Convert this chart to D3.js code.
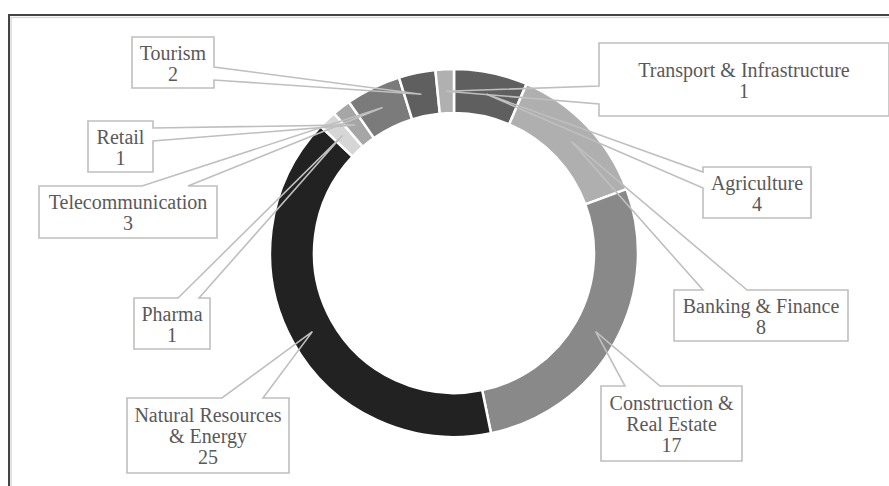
<!DOCTYPE html>
<html>
<head>
<meta charset="utf-8">
<script src="https://cdn.jsdelivr.net/npm/d3@7/dist/d3.min.js"></script>
<style>
  html, body { margin: 0; padding: 0; background: #fff; }
  svg { display: block; }
  .lbl { font-family: "Liberation Serif", "Times New Roman", Times, serif; font-size: 20px; fill: #595959; }
</style>
</head>
<body>
<svg id="chart" width="889" height="486"></svg>
<script>
// Sectors and deal counts, in ring order (clockwise from 12 o'clock)
const sectors = [
  "Agriculture",
  "Banking & Finance",
  "Construction & Real Estate",
  "Natural Resources & Energy",
  "Pharma",
  "Retail",
  "Telecommunication",
  "Tourism",
  "Transport & Infrastructure"
];
const counts = [4, 8, 17, 25, 1, 1, 3, 2, 1];
const sectorColors = ["#5f5f5f", "#afafaf", "#898989", "#222222", "#d6d6d6", "#a6a6a6", "#7b7b7b", "#5f5f5f", "#b0b0b0"];

// Label text lines per sector (the value line is appended from counts)
const labelLines = [
  ["Agriculture"],
  ["Banking & Finance"],
  ["Construction &", "Real Estate"],
  ["Natural Resources", "& Energy"],
  ["Pharma"],
  ["Retail"],
  ["Telecommunication"],
  ["Tourism"],
  ["Transport & Infrastructure"]
];

// Callout box placement: box rect, side the pointer leaves from, and the two base points along that side
const callouts = [
  { x: 703, y: 167, w: 108, h: 51, side: "left",  a: 172, b: 188 },
  { x: 674, y: 290, w: 174, h: 51, side: "top",   a: 703, b: 747 },
  { x: 601, y: 386, w: 141, h: 75, side: "top",   a: 625, b: 660 },
  { x: 127, y: 398, w: 162, h: 75, side: "top",   a: 222, b: 263 },
  { x: 134, y: 298, w: 76,  h: 51, side: "top",   a: 178, b: 199 },
  { x: 88,  y: 121, w: 65,  h: 51, side: "right", a: 128, b: 141 },
  { x: 39,  y: 186, w: 178, h: 52, side: "top",   a: 142, b: 188 },
  { x: 132, y: 37,  w: 82,  h: 51, side: "right", a: 67,  b: 80 },
  { x: 599, y: 43,  w: 290, h: 73, side: "left",  a: 86,  b: 104 }
];

const svg = d3.select("#chart");
const W = 889, H = 486;

// Chart frame
svg.append("rect").attr("x", 0).attr("y", 0).attr("width", W).attr("height", H).attr("fill", "#fff");
svg.append("path")
  .attr("d", `M11,${H} L11,17.5 L${W},17.5`)
  .attr("fill", "none").attr("stroke", "#dadada").attr("stroke-width", 1.5);
svg.append("path")
  .attr("d", `M9,${H} L9,15 L${W},15`)
  .attr("fill", "none").attr("stroke", "#444").attr("stroke-width", 2);

// Doughnut
const cx = 454, cy = 253, rOuter = 184, rInner = 140;
const pie = d3.pie().value(d => d).sort(null).startAngle(0).endAngle(2 * Math.PI);
const arcs = pie(counts);
const arc = d3.arc().innerRadius(rInner).outerRadius(rOuter);

const ring = svg.append("g").attr("transform", `translate(${cx},${cy})`);
ring.selectAll("path.slice")
  .data(arcs)
  .join("path")
  .attr("class", "slice")
  .attr("d", arc)
  .attr("fill", (d, i) => sectorColors[i])
  .attr("stroke", "#fff")
  .attr("stroke-width", 2.5)
  .attr("stroke-linejoin", "miter");

// Callouts: white box, then an outline whose pointer runs to the slice centroid
const lineH = 21;
const labels = svg.append("g");

arcs.forEach((d, i) => {
  const c = callouts[i];
  const [tx, ty] = arc.centroid(d);
  const tip = [cx + tx, cy + ty];
  const x0 = c.x, y0 = c.y, x1 = c.x + c.w, y1 = c.y + c.h;
  let pts;
  const lo = Math.min(c.a, c.b), hi = Math.max(c.a, c.b);
  if (c.side === "top") {
    pts = [[x0, y0], [lo, y0], tip, [hi, y0], [x1, y0], [x1, y1], [x0, y1]];
  } else if (c.side === "right") {
    pts = [[x0, y0], [x1, y0], [x1, lo], tip, [x1, hi], [x1, y1], [x0, y1]];
  } else if (c.side === "left") {
    pts = [[x0, y0], [x1, y0], [x1, y1], [x0, y1], [x0, hi], tip, [x0, lo]];
  } else {
    pts = [[x0, y0], [x1, y0], [x1, y1], [hi, y1], tip, [lo, y1], [x0, y1]];
  }

  labels.append("rect")
    .attr("x", x0).attr("y", y0).attr("width", c.w).attr("height", c.h)
    .attr("fill", "#fff");
  labels.append("path")
    .attr("d", d3.line()(pts) + "Z")
    .attr("fill", "none")
    .attr("stroke", "#bfbfbf")
    .attr("stroke-width", 1.6)
    .attr("stroke-linejoin", "miter");

  const lines = labelLines[i].concat([String(counts[i])]);
  const mid = y0 + c.h / 2;
  const first = mid - (lines.length - 1) * lineH / 2 + 7.5;
  const t = labels.append("text")
    .attr("class", "lbl")
    .attr("text-anchor", "middle");
  lines.forEach((s, k) => {
    t.append("tspan")
      .attr("x", x0 + c.w / 2)
      .attr("y", first + k * lineH)
      .text(s);
  });
});
</script>
</body>
</html>
